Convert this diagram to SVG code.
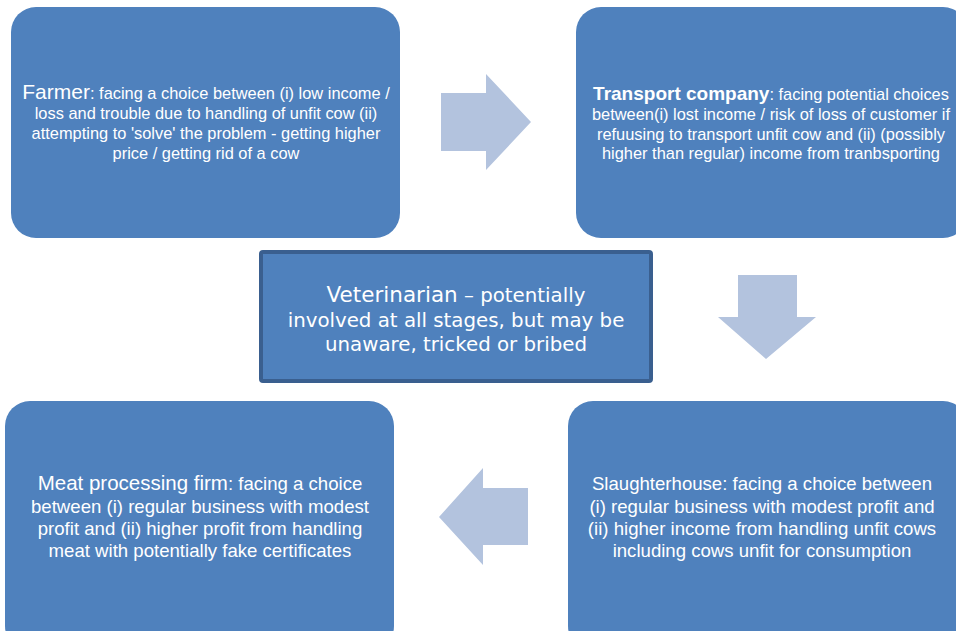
<svg xmlns="http://www.w3.org/2000/svg" width="956" height="631" viewBox="0 0 956 631">
<style>
.box{fill:#4f81bd;}
.vet{fill:#4f81bd;stroke:#3a5f8f;stroke-width:4;}
.arrow{fill:#b3c3de;}
.t{font-family:"Liberation Sans",Arial,sans-serif;fill:#ffffff;text-anchor:middle;}
.s{font-size:16.4px;}
.m{font-size:18.6px;}
.v{font-family:"DejaVu Sans",Verdana,sans-serif;fill:#ffffff;text-anchor:middle;font-size:19.8px;}
</style>
<rect width="956" height="631" fill="#ffffff"/>
<g id="connectors">
<polygon class="arrow" points="441,93 486,93 486,74 531,122 486,170 486,151 441,151"/>
<polygon class="arrow" points="738,275 797,275 797,317 816,317 766,359 718,317 738,317"/>
<polygon class="arrow" points="528,488 483,488 483,468 439,517 483,565 483,545 528,545"/>
</g>
<g id="farmer">
<rect class="box" x="11" y="7" width="389" height="231" rx="25"/>
<text class="t s" x="206" y="99"><tspan font-size="21">Farmer</tspan>: facing a choice between (i) low income /</text>
<text class="t s" x="206" y="119">loss and trouble due to handling of unfit cow (ii)</text>
<text class="t s" x="206" y="139">attempting to 'solve' the problem - getting higher</text>
<text class="t s" x="206" y="159">price / getting rid of a cow</text>
</g>
<g id="transport">
<rect class="box" x="576" y="7" width="392" height="231" rx="25"/>
<text class="t s" x="771" y="100"><tspan font-size="19" font-weight="bold">Transport company</tspan>: facing potential choices</text>
<text class="t s" x="771" y="120">between(i) lost income / risk of loss of customer if</text>
<text class="t s" x="771" y="140">refuusing to transport unfit cow and (ii) (possibly</text>
<text class="t s" x="771" y="159">higher than regular) income from tranbsporting</text>
</g>
<g id="veterinarian">
<rect class="vet" x="261" y="252" width="390" height="129" rx="2"/>
<text class="v" x="456" y="302"><tspan font-size="21.5">Veterinarian</tspan> – potentially</text>
<text class="v" x="456" y="327">involved at all stages, but may be</text>
<text class="v" x="456" y="351">unaware, tricked or bribed</text>
</g>
<g id="slaughterhouse">
<rect class="box" x="568" y="401" width="400" height="250" rx="25"/>
<text class="t m" x="762" y="490">Slaughterhouse: facing a choice between</text>
<text class="t m" x="762" y="513">(i) regular business with modest profit and</text>
<text class="t m" x="762" y="535">(ii) higher income from handling unfit cows</text>
<text class="t m" x="762" y="557">including cows unfit for consumption</text>
</g>
<g id="meat">
<rect class="box" x="5" y="401" width="389" height="250" rx="25"/>
<text class="t m" x="200" y="490"><tspan font-size="20.5">Meat processing firm</tspan>: facing a choice</text>
<text class="t m" x="200" y="513">between (i) regular business with modest</text>
<text class="t m" x="200" y="535">profit and (ii) higher profit from handling</text>
<text class="t m" x="200" y="557">meat with potentially fake certificates</text>
</g>
</svg>
